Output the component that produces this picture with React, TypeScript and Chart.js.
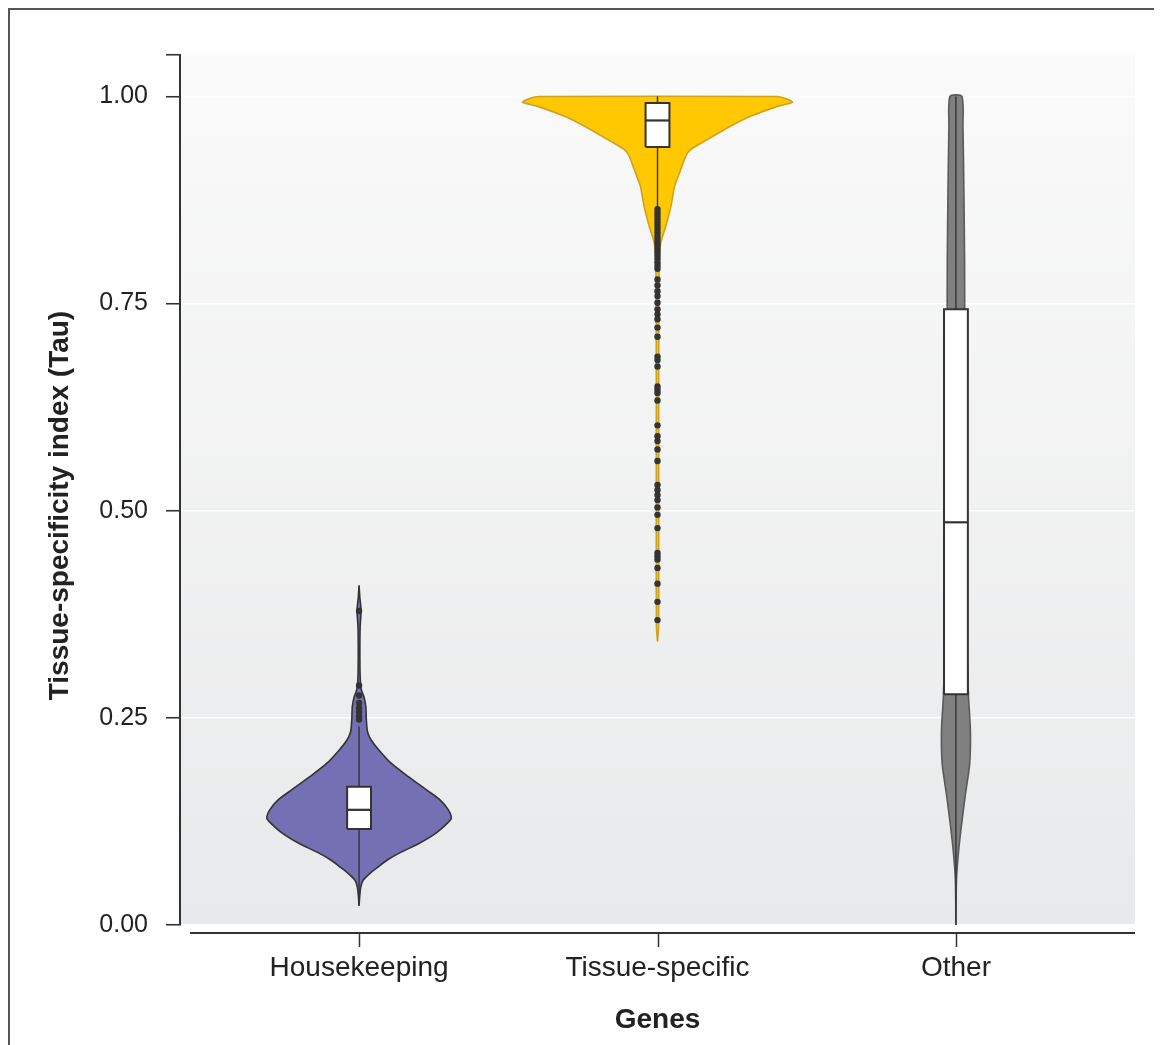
import React, { useEffect, useRef } from 'react';
import { Chart, registerables } from 'chart.js';

Chart.register(...registerables);

// ---------- data ----------
const categories = ['Housekeeping', 'Tissue-specific', 'Other'];
const yTickValues = [0, 0.25, 0.5, 0.75, 1.0];
const yAxisMax = 1.05;

// Violin density profiles: tau level and relative density (Tissue-specific peak = 1)
const hkTau = [0.023, 0.035, 0.046, 0.054, 0.062, 0.07, 0.079, 0.087, 0.099, 0.111, 0.123, 0.129, 0.139, 0.151, 0.163, 0.179, 0.195, 0.211, 0.223, 0.233, 0.248, 0.264, 0.276, 0.284, 0.3, 0.33, 0.36, 0.38, 0.395, 0.41];
const hkDensity = [0, 0.005, 0.013, 0.03, 0.079, 0.141, 0.215, 0.301, 0.45, 0.57, 0.655, 0.684, 0.662, 0.6, 0.5, 0.365, 0.24, 0.148, 0.091, 0.063, 0.054, 0.05, 0.035, 0.017, 0.008, 0.006, 0.008, 0.015, 0.006, 0];

const tsTau = [0.342, 0.36, 0.45, 0.55, 0.65, 0.75, 0.78, 0.803, 0.823, 0.843, 0.867, 0.892, 0.912, 0.928, 0.936, 0.948, 0.964, 0.976, 0.988, 0.993, 0.9965, 0.999, 1.0];
const tsDensity = [0, 0.008, 0.009, 0.009, 0.009, 0.01, 0.011, 0.013, 0.024, 0.061, 0.099, 0.128, 0.173, 0.21, 0.247, 0.37, 0.541, 0.689, 0.889, 1.0, 0.963, 0.919, 0.881];

const otTau = [0, 0.054, 0.0825, 0.115, 0.155, 0.195, 0.2355, 0.276, 0.35, 0.5, 0.65, 0.747, 0.803, 0.884, 0.964, 1.0];
const otDensity = [0, 0.004, 0.016, 0.037, 0.068, 0.102, 0.107, 0.093, 0.081, 0.074, 0.07, 0.065, 0.064, 0.059, 0.052, 0.044];

// Box statistics: [lower whisker, Q1, median, Q3, upper whisker]
const hkBox = [0.024, 0.116, 0.139, 0.167, 0.2395];
const tsBox = [0.8635, 0.939, 0.971, 0.992, 1.0];
const otBox = [0.0, 0.2786, 0.486, 0.743, 1.0];

// Outliers
const hkOutliers = [0.379, 0.289, 0.277, 0.268, 0.262, 0.257, 0.252, 0.248];
const tsOutliers = [
  0.864, 0.86, 0.856, 0.852, 0.848, 0.844, 0.84, 0.836, 0.832, 0.828, 0.824, 0.82, 0.816, 0.812, 0.808, 0.804, 0.8, 0.796, 0.792,
  0.779, 0.772, 0.765, 0.759, 0.751, 0.743, 0.737, 0.731, 0.721, 0.71, 0.686, 0.682, 0.674, 0.65, 0.646, 0.642, 0.633,
  0.603, 0.59, 0.584, 0.574, 0.56, 0.531, 0.525, 0.519, 0.513, 0.504, 0.495, 0.479, 0.449, 0.445, 0.441, 0.431, 0.412, 0.39, 0.368,
];
const otOutliers: number[] = [];

// ---------- styling constants ----------
const VIOLIN_HALF = 0.452; // x-units for density 1
const BOX_HALF = 0.04;
const fills = ['#7570B3', '#FFC800', '#808080'];
const outlines = ['#333333', '#CFA21F', '#5a5a5a'];
const INK = '#333333';
const FONT = '"Liberation Sans", Arial, Helvetica, sans-serif';

function violinPoints(center: number, taus: number[], dens: number[]) {
  const right = taus.map((t, i) => ({ x: center + dens[i] * VIOLIN_HALF, y: t }));
  const left = taus.map((t, i) => ({ x: center - dens[i] * VIOLIN_HALF, y: t })).reverse();
  return [...right, ...left, right[0]];
}

function boxPoints(center: number, b: number[]) {
  return [
    { x: center - BOX_HALF, y: b[1] },
    { x: center + BOX_HALF, y: b[1] },
    { x: center + BOX_HALF, y: b[3] },
    { x: center - BOX_HALF, y: b[3] },
    { x: center - BOX_HALF, y: b[1] },
  ];
}

const panelPlugin = {
  id: 'panelPlugin',
  beforeDraw(chart: any) {
    const { ctx, chartArea: a } = chart;
    const g = ctx.createLinearGradient(0, a.top, 0, a.bottom);
    g.addColorStop(0, '#fafafa');
    g.addColorStop(1, '#e8e9ea');
    ctx.save();
    ctx.fillStyle = g;
    ctx.fillRect(a.left, a.top, a.right - a.left, a.bottom - a.top);
    ctx.restore();
  },
  afterDraw(chart: any) {
    const { ctx, chartArea: a, scales } = chart;
    const xs = scales.x;
    const yLine = a.bottom + 8;
    ctx.save();
    ctx.strokeStyle = INK;
    ctx.lineWidth = 2;
    ctx.beginPath();
    ctx.moveTo(a.left + 10, yLine);
    ctx.lineTo(a.right, yLine);
    ctx.stroke();
    ctx.lineWidth = 1.5;
    xs.ticks.forEach((t: any) => {
      const px = Math.round(xs.getPixelForValue(t.value)) + 0.5;
      ctx.beginPath();
      ctx.moveTo(px, yLine);
      ctx.lineTo(px, yLine + 14);
      ctx.stroke();
    });
    ctx.restore();
  },
};

export default function App() {
  const ref = useRef<HTMLCanvasElement | null>(null);

  useEffect(() => {
    if (!ref.current) return;
    const profiles = [
      [hkTau, hkDensity],
      [tsTau, tsDensity],
      [otTau, otDensity],
    ];
    const boxes = [hkBox, tsBox, otBox];
    const outliers = [hkOutliers, tsOutliers, otOutliers];
    const datasets: any[] = [];

    categories.forEach((_, i) => {
      const c = i + 1;
      const b = boxes[i];
      datasets.push({
        type: 'line',
        data: violinPoints(c, profiles[i][0], profiles[i][1]),
        backgroundColor: fills[i],
        borderColor: outlines[i],
        borderWidth: 1.6,
        fill: 'shape',
        pointRadius: 0,
        tension: 0.25,
        order: 5,
      });
      datasets.push({
        type: 'line',
        data: [{ x: c, y: b[0] }, { x: c, y: b[4] }],
        borderColor: INK,
        borderWidth: 1.4,
        fill: false,
        pointRadius: 0,
        tension: 0,
        order: 4,
      });
      datasets.push({
        type: 'line',
        data: boxPoints(c, b),
        backgroundColor: '#ffffff',
        borderColor: INK,
        borderWidth: 2,
        fill: 'shape',
        pointRadius: 0,
        tension: 0,
        order: 3,
      });
      datasets.push({
        type: 'line',
        data: [{ x: c - BOX_HALF, y: b[2] }, { x: c + BOX_HALF, y: b[2] }],
        borderColor: INK,
        borderWidth: 2.2,
        fill: false,
        pointRadius: 0,
        tension: 0,
        order: 2,
      });
      datasets.push({
        type: 'line',
        data: outliers[i].map((v) => ({ x: c, y: v })),
        showLine: false,
        pointRadius: 3.2,
        pointBorderWidth: 0,
        pointBackgroundColor: INK,
        pointBorderColor: INK,
        order: 1,
      });
    });

    const chart = new Chart(ref.current, {
      type: 'line',
      data: { datasets },
      plugins: [panelPlugin],
      options: {
        animation: false,
        responsive: false,
        devicePixelRatio: 1,
        events: [],
        layout: { padding: { top: 45, right: 27, left: 0, bottom: 0 } },
        plugins: { legend: { display: false }, tooltip: { enabled: false } },
        scales: {
          x: {
            type: 'linear',
            min: 0.4,
            max: 3.6,
            afterBuildTicks: (scale: any) => {
              scale.ticks = categories.map((_, i) => ({ value: i + 1 }));
            },
            afterFit: (scale: any) => {
              scale.height = 120;
            },
            grid: { display: false, drawTicks: false },
            border: { display: false },
            ticks: {
              autoSkip: false,
              maxRotation: 0,
              padding: 26,
              color: '#222',
              font: { family: FONT, size: 28 },
              callback: (v: any) => categories[Math.round(Number(v)) - 1] ?? '',
            },
            title: {
              display: true,
              text: 'Genes',
              color: '#222',
              font: { family: FONT, size: 28, weight: 'bold' },
              padding: { top: 0, bottom: 8 },
            },
          },
          y: {
            type: 'linear',
            min: 0,
            max: yAxisMax,
            afterBuildTicks: (scale: any) => {
              scale.ticks = [...yTickValues, yAxisMax].map((v) => ({ value: v }));
            },
            afterFit: (scale: any) => {
              scale.width = 170;
            },
            grid: {
              color: 'rgba(255,255,255,0.95)',
              lineWidth: 1.5,
              tickColor: INK,
              tickWidth: 1.6,
              tickLength: 14,
            },
            border: { display: true, color: INK, width: 2 },
            ticks: {
              autoSkip: false,
              padding: 18,
              color: '#222',
              font: { family: FONT, size: 25 },
              callback: (v: any) => (yTickValues.includes(Number(v)) ? Number(v).toFixed(2) : ''),
            },
            title: {
              display: true,
              text: 'Tissue-specificity index (Tau)    ',
              color: '#222',
              font: { family: FONT, size: 28, weight: 'bold' },
              padding: { top: 33, bottom: 0 },
            },
          },
        },
      } as any,
    });
    return () => chart.destroy();
  }, []);

  return (
    <div
      style={{
        width: 1152,
        height: 1035,
        borderTop: '2px solid #555',
        borderLeft: '2px solid #555',
        background: '#fff',
      }}
    >
      <canvas ref={ref} width={1152} height={1035} style={{ display: 'block' }} />
    </div>
  );
}
